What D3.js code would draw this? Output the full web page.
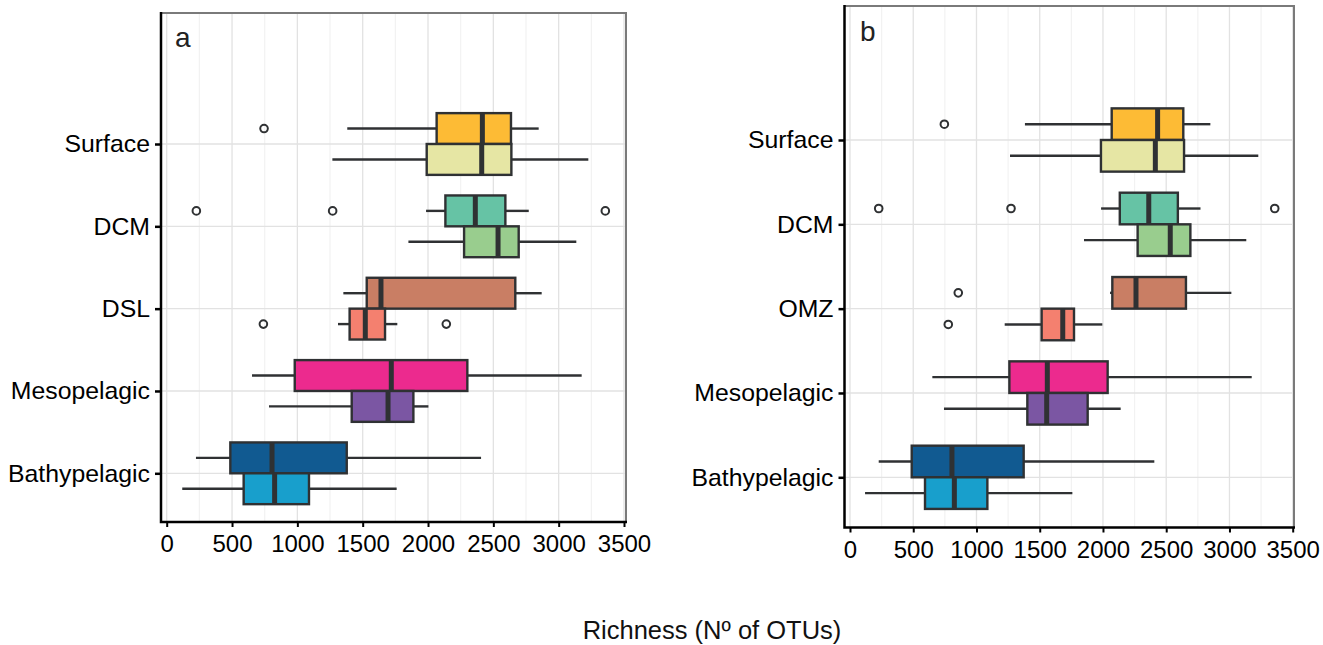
<!DOCTYPE html>
<html>
<head>
<meta charset="utf-8">
<script src="https://cdn.jsdelivr.net/npm/d3@7"></script>
<style>
  html, body { margin: 0; padding: 0; background: #fff; }
  svg { display: block; }
  text { font-family: "Liberation Sans", Arial, Helvetica, sans-serif; }
</style>
</head>
<body>
<svg id="chart" width="1323" height="645"></svg>
<script>
// ---------------- DATA ----------------
const categoriesA = ["Surface", "DCM", "DSL", "Mesopelagic", "Bathypelagic"];
const categoriesB = ["Surface", "DCM", "OMZ", "Mesopelagic", "Bathypelagic"];
const xTicks = [0, 500, 1000, 1500, 2000, 2500, 3000, 3500];
const xMinorTicks = [250, 750, 1250, 1750, 2250, 2750, 3250];
const xTitle = "Richness (Nº of OTUs)";

// Panel a, upper box of each pair
const a_up_low  = [1382, 1985, 1352, 653, 224];
const a_up_q1   = [2066, 2133, 1531, 980, 487];
const a_up_med  = [2416, 2362, 1640, 1719, 806];
const a_up_q3   = [2635, 2592, 2668, 2301, 1378];
const a_up_high = [2847, 2771, 2870, 3176, 2406];
const a_up_out  = [[745], [227, 1270, 3357], [], [], []];
// Panel a, lower box of each pair
const a_lo_low  = [1268, 1850, 1311, 783, 119];
const a_lo_q1   = [1990, 2276, 1400, 1416, 589];
const a_lo_med  = [2411, 2536, 1520, 1694, 826];
const a_lo_q3   = [2638, 2694, 1671, 1888, 1089];
const a_lo_high = [3227, 3135, 1765, 2003, 1760];
const a_lo_out  = [[], [], [740, 2140], [], []];

// Panel b, upper box
const b_up_low  = [1383, 1985, 2056, 651, 227];
const b_up_q1   = [2069, 2133, 2074, 1260, 488];
const b_up_med  = [2432, 2362, 2261, 1560, 806];
const b_up_q3   = [2635, 2592, 2656, 2037, 1373];
const b_up_high = [2849, 2771, 3015, 3176, 2406];
const b_up_out  = [[746], [227, 1273, 3358], [856], [], []];
// Panel b, lower box
const b_lo_low  = [1265, 1850, 1223, 743, 119];
const b_lo_q1   = [1984, 2274, 1515, 1402, 593];
const b_lo_med  = [2414, 2532, 1682, 1555, 825];
const b_lo_q3   = [2641, 2691, 1771, 1879, 1086];
const b_lo_high = [3228, 3133, 1995, 2140, 1758];
const b_lo_out  = [[], [], [777], [], []];

const upperColors = ["#FDBB35", "#66C3A5", "#C97E64", "#EC2A8E", "#115A91"];
const lowerColors = ["#E6E6A4", "#99CD8E", "#F4806F", "#7B56A3", "#189FCC"];

// ---------------- DRAW ----------------
const svg = d3.select("#chart");
const STROKE = "#2f3133";

function series(low, q1, med, q3, high, out, colors) {
  return low.map((d, i) => ({ i, low: low[i], q1: q1[i], med: med[i], q3: q3[i], high: high[i], out: out[i], color: colors[i] }));
}

function drawPanel(p) {
  const g = svg.append("g");
  const x = d3.scaleLinear().domain([0, 3500]).range([p.x0, p.x3500]);
  const y = d3.scalePoint().domain(p.categories).range([p.yFirst, p.yLast]);
  const step = y.step();
  const bw = step * 0.375;

  // background grid
  g.append("g").selectAll("line.minor").data(xMinorTicks).join("line")
    .attr("x1", d => x(d)).attr("x2", d => x(d))
    .attr("y1", p.top).attr("y2", p.bottom)
    .attr("stroke", "#f2f2f2").attr("stroke-width", 1.2);
  g.append("g").selectAll("line.major").data(xTicks).join("line")
    .attr("x1", d => x(d)).attr("x2", d => x(d))
    .attr("y1", p.top).attr("y2", p.bottom)
    .attr("stroke", "#e2e2e2").attr("stroke-width", 1.3);
  g.append("g").selectAll("line.hy").data(p.categories).join("line")
    .attr("x1", p.left).attr("x2", p.right)
    .attr("y1", d => y(d)).attr("y2", d => y(d))
    .attr("stroke", "#e2e2e2").attr("stroke-width", 1.3);

  // boxes
  const groups = [
    { data: p.upper, offset: -bw / 2 },
    { data: p.lower, offset: bw / 2 }
  ];
  groups.forEach(gr => {
    gr.data.forEach(d => {
      const cy = y(p.categories[d.i]) + gr.offset;
      const bg = g.append("g");
      // whiskers
      bg.append("line").attr("x1", x(d.low)).attr("x2", x(d.q1)).attr("y1", cy).attr("y2", cy)
        .attr("stroke", STROKE).attr("stroke-width", 2.4);
      bg.append("line").attr("x1", x(d.q3)).attr("x2", x(d.high)).attr("y1", cy).attr("y2", cy)
        .attr("stroke", STROKE).attr("stroke-width", 2.4);
      // box
      bg.append("rect").attr("x", x(d.q1)).attr("y", cy - bw / 2)
        .attr("width", x(d.q3) - x(d.q1)).attr("height", bw)
        .attr("fill", d.color).attr("stroke", STROKE).attr("stroke-width", 2.4);
      // median
      bg.append("line").attr("x1", x(d.med)).attr("x2", x(d.med))
        .attr("y1", cy - bw / 2).attr("y2", cy + bw / 2)
        .attr("stroke", STROKE).attr("stroke-width", 5);
      // outliers
      bg.selectAll("circle").data(d.out).join("circle")
        .attr("cx", v => x(v)).attr("cy", cy).attr("r", 3.8)
        .attr("fill", "none").attr("stroke", STROKE).attr("stroke-width", 2);
    });
  });

  // panel border (top/right gray)
  g.append("path")
    .attr("d", `M${p.left},${p.top}H${p.right}V${p.bottom}`)
    .attr("fill", "none").attr("stroke", "#7a7a7a").attr("stroke-width", 2);

  // axes
  const xAxis = d3.axisBottom(x).tickValues(xTicks).tickSize(5).tickPadding(8).tickFormat(d3.format("d"));
  const ax = g.append("g").attr("transform", `translate(0,${p.bottom})`).call(xAxis);
  ax.select(".domain").remove();
  ax.selectAll(".tick line").attr("stroke", "#000").attr("stroke-width", 2);
  ax.selectAll(".tick text").attr("font-size", 24).attr("fill", "#000")
    .attr("font-family", "Liberation Sans, Arial, sans-serif");

  const yAxis = d3.axisLeft(y).tickSize(6).tickPadding(5);
  const ay = g.append("g").attr("transform", `translate(${p.left},0)`).call(yAxis);
  ay.select(".domain").remove();
  ay.selectAll(".tick line").attr("stroke", "#000").attr("stroke-width", 2.5);
  ay.selectAll(".tick text").attr("font-size", 24.8).attr("fill", "#000")
    .attr("font-family", "Liberation Sans, Arial, sans-serif");

  // axis lines (black left and bottom)
  g.append("path")
    .attr("d", `M${p.left},${p.top - 1}V${p.bottom}H${p.right + 1}`)
    .attr("fill", "none").attr("stroke", "#000").attr("stroke-width", 2.5);

  // panel letter
  g.append("text").attr("x", p.labelX).attr("y", p.labelY).text(p.label)
    .attr("font-family", "Open Sans, DejaVu Sans, sans-serif").attr("font-size", 28).attr("fill", "#222");
}

drawPanel({
  categories: categoriesA,
  upper: series(a_up_low, a_up_q1, a_up_med, a_up_q3, a_up_high, a_up_out, upperColors),
  lower: series(a_lo_low, a_lo_q1, a_lo_med, a_lo_q3, a_lo_high, a_lo_out, lowerColors),
  left: 161, right: 626, top: 13, bottom: 522,
  x0: 166.7, x3500: 624,
  yFirst: 144, yLast: 473.3,
  label: "a", labelX: 175, labelY: 47
});

drawPanel({
  categories: categoriesB,
  upper: series(b_up_low, b_up_q1, b_up_med, b_up_q3, b_up_high, b_up_out, upperColors),
  lower: series(b_lo_low, b_lo_q1, b_lo_med, b_lo_q3, b_lo_high, b_lo_out, lowerColors),
  left: 844.5, right: 1294, top: 6, bottom: 527.5,
  x0: 850, x3500: 1292.7,
  yFirst: 140, yLast: 477.3,
  label: "b", labelX: 860, labelY: 41
});

svg.append("text").attr("x", 712).attr("y", 639).attr("text-anchor", "middle")
  .attr("font-size", 25.5).attr("fill", "#111").text(xTitle);
</script>
</body>
</html>
